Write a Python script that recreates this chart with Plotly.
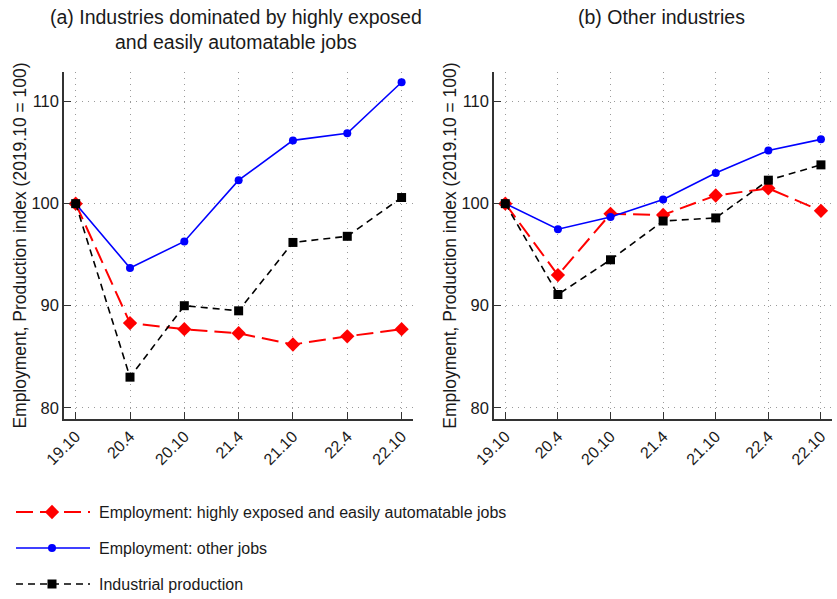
import plotly.graph_objects as go

# Survey periods (year.month)
periods = ["19.10", "20.4", "20.10", "21.4", "21.10", "22.4", "22.10"]

# (a) Industries dominated by highly exposed and easily automatable jobs
a_exposed = [100, 88.3, 87.7, 87.3, 86.2, 87.0, 87.7]
a_other = [100, 93.7, 96.3, 102.3, 106.2, 106.9, 111.9]
a_production = [100, 83.0, 90.0, 89.5, 96.2, 96.8, 100.6]

# (b) Other industries
b_exposed = [100, 93.0, 99.0, 98.9, 100.8, 101.5, 99.3]
b_other = [100, 97.5, 98.7, 100.4, 103.0, 105.2, 106.3]
b_production = [100, 91.1, 94.5, 98.3, 98.6, 102.3, 103.8]

series_names = [
    "Employment: highly exposed and easily automatable jobs",
    "Employment: other jobs",
    "Industrial production",
]

FONT = "Liberation Sans, Arial, sans-serif"
TXT = "#1a1a1a"
RED, BLUE, BLACK = "#ff0000", "#0000ff", "#000000"

styles = [
    dict(line=dict(color=RED, width=2, dash="17px,7px"),
         marker=dict(symbol="diamond", size=11, color=RED)),
    dict(line=dict(color=BLUE, width=1.6),
         marker=dict(symbol="circle", size=8, color=BLUE)),
    dict(line=dict(color=BLACK, width=1.6, dash="7px,5px"),
         marker=dict(symbol="square", size=9, color=BLACK)),
]

fig = go.Figure()
xs = list(range(len(periods)))

for xa, ya, data in [("x", "y", [a_exposed, a_other, a_production]),
                     ("x2", "y2", [b_exposed, b_other, b_production])]:
    for vals, st, name in zip(data, styles, series_names):
        fig.add_trace(go.Scatter(x=xs, y=vals, mode="lines+markers", name=name,
                                 xaxis=xa, yaxis=ya, showlegend=False,
                                 line=st["line"], marker=st["marker"]))

# Legend block drawn in its own pixel-scaled axes at the bottom
leg_rows = [87, 51, 15]
for row, st, name in zip(leg_rows, styles, series_names):
    fig.add_trace(go.Scatter(x=[16, 90], y=[row, row], mode="lines", xaxis="x3", yaxis="y3",
                             showlegend=False, hoverinfo="skip", line=st["line"]))
    fig.add_trace(go.Scatter(x=[52], y=[row], mode="markers", xaxis="x3", yaxis="y3",
                             showlegend=False, hoverinfo="skip", marker=st["marker"]))
    fig.add_annotation(x=97, y=row, xref="x3", yref="y3", text=name, showarrow=False,
                       xanchor="left", yanchor="middle",
                       font=dict(family=FONT, size=16, color=TXT))

common_x = dict(
    tickmode="array", tickvals=xs, ticktext=periods, tickangle=-45,
    ticks="inside", ticklen=7, tickcolor="#333", tickwidth=1.3,
    showline=True, linecolor="#333", linewidth=1.5,
    showgrid=True, gridcolor="#9a9a9a", gridwidth=1, griddash="1px,5px",
    zeroline=False, range=[-0.215, 6.21], automargin=False,
    tickfont=dict(family=FONT, size=16, color=TXT),
)
common_y = dict(
    tickmode="array", tickvals=[80, 90, 100, 110],
    ticks="inside", ticklen=7, tickcolor="#333", tickwidth=1.3,
    showline=True, linecolor="#333", linewidth=1.5,
    showgrid=True, gridcolor="#9a9a9a", gridwidth=1, griddash="1px,5px",
    zeroline=False, range=[78.9, 112.9], automargin=False,
    tickfont=dict(family=FONT, size=16.5, color=TXT),
    title=dict(text="Employment, Production index (2019.10 = 100)",
               font=dict(family=FONT, size=17.5, color=TXT), standoff=0),
)

y_dom = [1 - 419 / 599, 1 - 72 / 599]
fig.update_layout(
    width=837, height=599,
    margin=dict(l=0, r=0, t=0, b=0, autoexpand=False),
    paper_bgcolor="white", plot_bgcolor="white",
    font=dict(family=FONT, color=TXT),
    xaxis=dict(domain=[64 / 837, 413 / 837], anchor="y", **common_x),
    yaxis=dict(domain=y_dom, anchor="x", **common_y),
    xaxis2=dict(domain=[494 / 837, 832 / 837], anchor="y2", **common_x),
    yaxis2=dict(domain=y_dom, anchor="x2", **common_y),
    xaxis3=dict(domain=[0, 1], anchor="y3", range=[0, 837], visible=False,
                fixedrange=True, automargin=False),
    yaxis3=dict(domain=[0, 110 / 599], anchor="x3", range=[0, 110], visible=False,
                fixedrange=True, automargin=False),
    hovermode=False,
)

fig.add_annotation(x=236 / 837, y=1 - 4 / 599, xref="paper", yref="paper",
                   text="(a) Industries dominated by highly exposed<br>and easily automatable jobs",
                   showarrow=False, xanchor="center", yanchor="top",
                   font=dict(family=FONT, size=19.5, color=TXT))
fig.add_annotation(x=661 / 837, y=1 - 4 / 599, xref="paper", yref="paper",
                   text="(b) Other industries",
                   showarrow=False, xanchor="center", yanchor="top",
                   font=dict(family=FONT, size=19.5, color=TXT))

fig.write_html("out.html")
